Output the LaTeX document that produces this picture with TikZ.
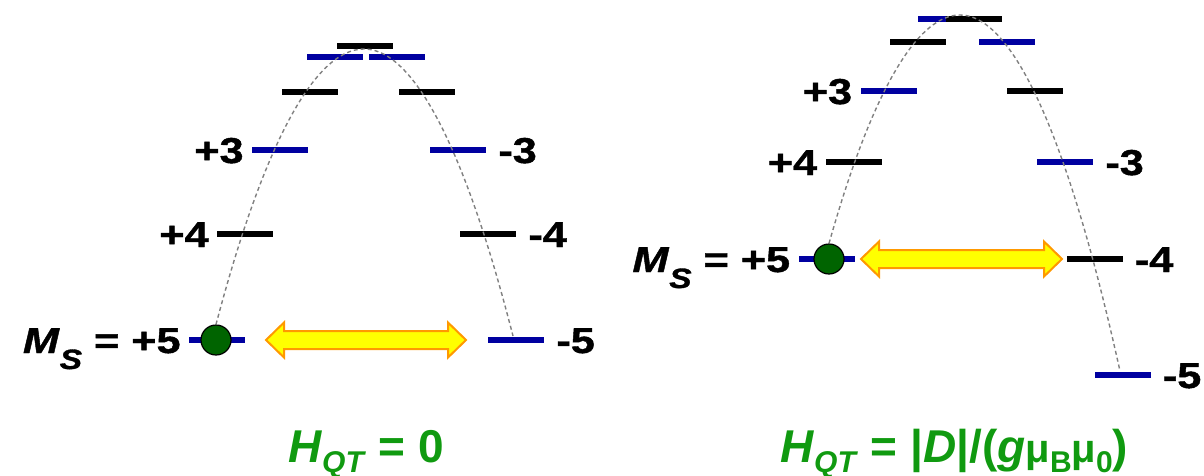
\documentclass[tikz,border=0pt]{standalone}
\usepackage{fontspec}
\setmainfont{Liberation Sans}
\newfontfamily\lvlfont[FakeStretch=1.2, FakeBold=1.2]{Liberation Sans}
\usepackage{tikz}
\usetikzlibrary{positioning}
\definecolor{levelblue}{HTML}{0000A0}
\definecolor{dotgreen}{HTML}{006400}
\definecolor{arrowyellow}{HTML}{FFFF00}
\definecolor{arroworange}{HTML}{FF9900}
\definecolor{hqtgreen}{HTML}{109A10}
\definecolor{guidegray}{HTML}{808080}

\begin{document}
\begin{tikzpicture}[
  x=1pt, y=-1pt,
  node distance=8pt,
  lvlblue/.style={fill=levelblue, inner sep=0pt, minimum width=56pt, minimum height=6pt},
  lvlblack/.style={lvlblue, fill=black},
  lbl/.style={font=\lvlfont\bfseries\fontsize{36}{40}\selectfont, inner sep=0pt,
              text height=26pt, text depth=0pt},
  dot/.style={circle, fill=dotgreen, draw=black, line width=1.2pt, minimum size=30pt, inner sep=0pt},
  guide/.style={draw=guidegray, line width=1.4pt, dash pattern=on 4pt off 3pt},
  fatarrow/.style={fill=arrowyellow, draw=arroworange, line width=2pt, line join=miter},
  hqt/.style={font=\bfseries\fontsize{46}{50}\selectfont, text=hqtgreen, inner sep=0pt, anchor=base west}
]
  \useasboundingbox (0,0) rectangle (1204,476);

  % left panel, H = 0
  \node[lvlblack] (t0L) at (364.5,46) {};
  \node[lvlblue] (t1L) at (334.5,57) {};
  \node[lvlblue] (t2L) at (396.5,57) {};
  \node[lvlblack] (p2L) at (310,92) {};
  \node[lvlblack] (m2L) at (426.5,92) {};
  \node[lvlblue] (p3L) at (280,150) {};
  \node[lvlblue] (m3L) at (458,150) {};
  \node[lvlblack] (p4L) at (245,234) {};
  \node[lvlblack] (m4L) at (488,234) {};
  \node[lvlblue] (p5L) at (217,340) {};
  \node[lvlblue] (m5L) at (516,340) {};
  \node[lbl, left=of p3L] {+3};
  \node[lbl, right=12pt of m3L] {-3};
  \node[lbl, left=of p4L] {+4};
  \node[lbl, right=12pt of m4L] {-4};
  \node[lbl, left=of p5L] (msL) {\textit{M}\raisebox{-16pt}{\fontsize{28}{28}\selectfont\textit{S}} = +5};
  \node[lbl, right=12pt of m5L] {-5};
  \node[dot] (dotL) at (216,340) {};
  \draw[guide] (dotL.north) parabola bend (364,49) (513,336);
  \draw[fatarrow] (266,340) -- ++(18,-17.5) -- ++(0,8.5) -- ++(164,0) -- ++(0,-8.5)
    -- ++(18,17.5) -- ++(-18,17.5) -- ++(0,-8.5) -- ++(-164,0) -- ++(0,8.5) -- cycle;
  \node[hqt] (hqtL) at (288,462) {\textit{H}\raisebox{-10pt}{\fontsize{30}{30}\selectfont\textit{QT}} = 0};

  % right panel, H = |D|/(g mu_B mu_0)
  \node[lvlblue] (t1R) at (945.5,19) {};
  \node[lvlblack] (t0R) at (974,19) {};
  \node[lvlblack] (p2R) at (917.5,42) {};
  \node[lvlblue] (m2R) at (1007,42) {};
  \node[lvlblue] (p3R) at (888.5,91) {};
  \node[lvlblack] (m1R) at (1034.5,91) {};
  \node[lvlblack] (p4R) at (853.5,162) {};
  \node[lvlblue] (m3R) at (1065,162) {};
  \node[lvlblue] (p5R) at (826.5,259) {};
  \node[lvlblack] (m4R) at (1094.5,259) {};
  \node[lvlblue] (m5R) at (1122.5,375) {};
  \node[lbl, left=of p3R] {+3};
  \node[lbl, left=of p4R] {+4};
  \node[lbl, right=12pt of m3R] {-3};
  \node[lbl, left=of p5R] (msR) {\textit{M}\raisebox{-16pt}{\fontsize{28}{28}\selectfont\textit{S}} = +5};
  \node[lbl, right=12pt of m4R] {-4};
  \node[lbl, right=12pt of m5R] {-5};
  \node[dot] (dotR) at (829,259) {};
  \draw[guide] (dotR.north) parabola bend (960,15) (1120,371);
  \draw[fatarrow] (861,259) -- ++(18,-17.5) -- ++(0,8.5) -- ++(165,0) -- ++(0,-8.5)
    -- ++(18,17.5) -- ++(-18,17.5) -- ++(0,-8.5) -- ++(-165,0) -- ++(0,8.5) -- cycle;
  \node[hqt] (hqtR) at (780,462) {\textit{H}\raisebox{-10pt}{\fontsize{30}{30}\selectfont\textit{QT}}
    = |\textit{D}|/(\textit{g}{\fontsize{40}{40}\selectfont μ}\raisebox{-10pt}{\fontsize{30}{30}\selectfont B}{\fontsize{40}{40}\selectfont μ}\raisebox{-10pt}{\fontsize{30}{30}\selectfont 0})};
\end{tikzpicture}
\end{document}
